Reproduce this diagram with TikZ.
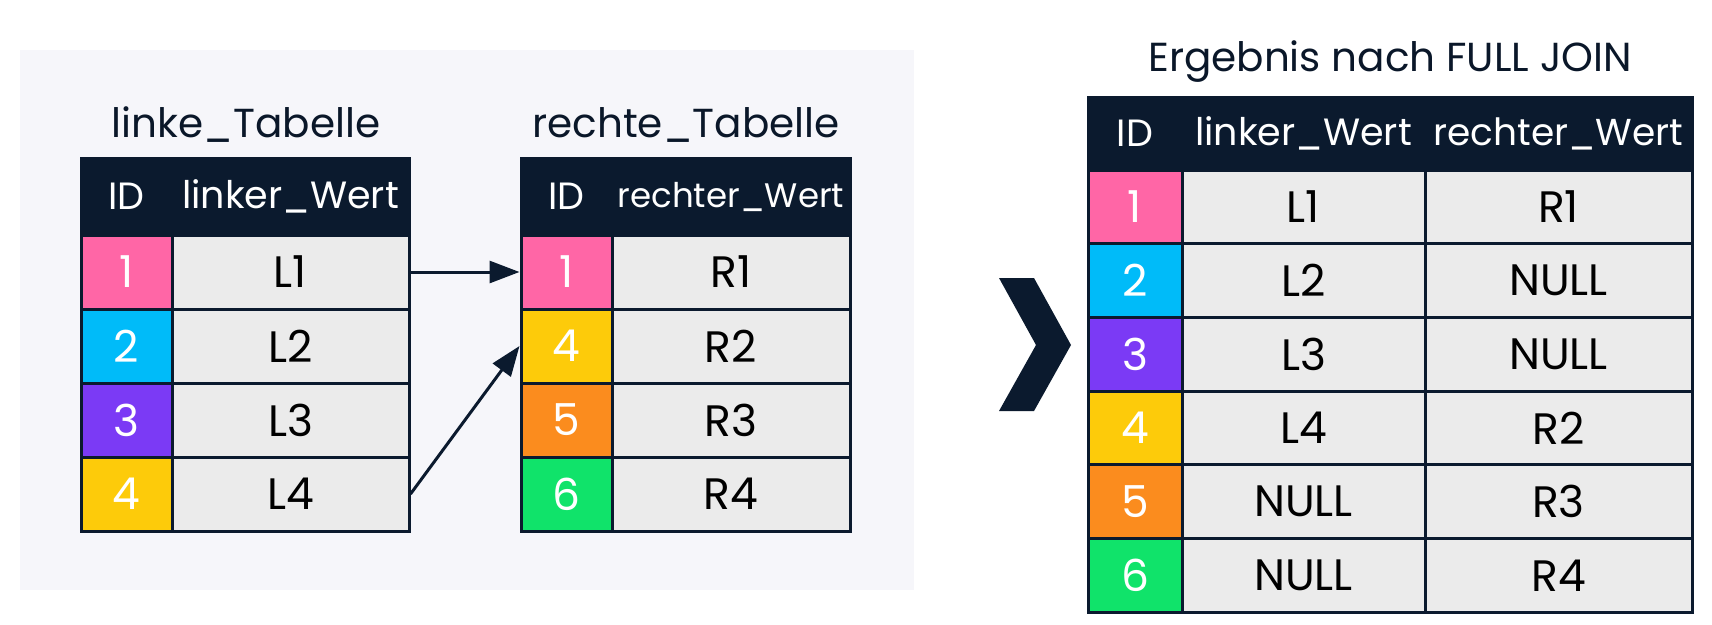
\documentclass[tikz,border=0pt]{standalone}
\usepackage{fontspec}
\setmainfont{Poppins}
\usetikzlibrary{arrows.meta}
\definecolor{navy}{HTML}{0B1A2E}
\definecolor{panel}{HTML}{F6F6FA}
\definecolor{cellgray}{HTML}{EBEBEB}
\definecolor{idpink}{HTML}{FF66A6}
\definecolor{idblue}{HTML}{00BBF9}
\definecolor{idpurple}{HTML}{7B3AF5}
\definecolor{idyellow}{HTML}{FDCB0A}
\definecolor{idorange}{HTML}{FB8C1E}
\definecolor{idgreen}{HTML}{10E36A}
\tikzset{
  cell/.style={draw=navy, line width=3pt, fill=cellgray, inner sep=0pt, text=black,
    font=\fontsize{44}{50}\selectfont},
  idcell/.style={cell, text=white},
  headcell/.style={cell, fill=navy, text=white, font=\fontsize{38}{44}\selectfont},
  tabtitle/.style={anchor=base, text=navy!90!black, font=\fontsize{40.5}{48}\selectfont},
  link/.style={draw=navy, line width=3pt, -{Triangle[length=30pt,width=22pt]}}
}
\begin{document}
\begin{tikzpicture}[x=1pt,y=-1pt]
\useasboundingbox (0,0) rectangle (1712,624);
\fill[white] (0,0) rectangle (1712,624);
\fill[panel] (20,50) rectangle (914,590);

\node[tabtitle] (ltitle) at (246,137) {linke\_Tabelle};
\node[headcell, minimum width=91pt, minimum height=77pt] (lhid) at (126.5,196.5) {ID};
\node[headcell, minimum width=237pt, minimum height=77pt] (lhval) at (290.5,196.5) {linker\_Wert};
\foreach \i/\c/\v [count=\k] in {1/idpink/L1, 2/idblue/L2, 3/idpurple/L3, 4/idyellow/L4} {
  \node[idcell, fill=\c, minimum width=91pt, minimum height=74pt] (lid\k) at (126.5,{198+74*\k}) {\i};
  \node[cell, minimum width=237pt, minimum height=74pt] (lv\k) at (290.5,{198+74*\k}) {\v};
}

\node[tabtitle] (rtitle) at (686,137) {rechte\_Tabelle};
\node[headcell, minimum width=91pt, minimum height=77pt] (rhid) at (566.5,196.5) {ID};
\node[headcell, minimum width=238pt, minimum height=77pt, font=\fontsize{34}{40}\selectfont] (rhval) at (731,196.5) {rechter\_Wert};
\foreach \i/\c/\v [count=\k] in {1/idpink/R1, 4/idyellow/R2, 5/idorange/R3, 6/idgreen/R4} {
  \node[idcell, fill=\c, minimum width=91pt, minimum height=74pt] (rid\k) at (566.5,{198+74*\k}) {\i};
  \node[cell, minimum width=238pt, minimum height=74pt] (rv\k) at (731,{198+74*\k}) {\v};
}

\draw[link] (lv1.east) -- (rid1.west);
\draw[link] (lv4.east) -- (rid2.west);

\fill[navy] (999,278) -- (1034,278) -- (1071,345) -- (1034,411) -- (999,411) -- (1036,345) -- cycle;

\node[tabtitle] (etitle) at (1390,71) {Ergebnis nach FULL JOIN};
\node[headcell, minimum width=94pt, minimum height=73pt] (ehid) at (1135,133.5) {ID};
\node[headcell, minimum width=243pt, minimum height=73pt] (ehl) at (1303.5,133.5) {linker\_Wert};
\node[headcell, minimum width=267pt, minimum height=73pt, font=\fontsize{37.5}{44}\selectfont] (ehr) at (1558.5,133.5) {rechter\_Wert};
\foreach \c/\l/\r [count=\k] in {idpink/L1/R1, idblue/L2/NULL, idpurple/L3/NULL, idyellow/L4/R2, idorange/NULL/R3, idgreen/NULL/R4} {
  \node[idcell, fill=\c, minimum width=94pt, minimum height=73.7pt] (eid\k) at (1135,{133.15+73.7*\k}) {\k};
  \node[cell, minimum width=243pt, minimum height=73.7pt] (el\k) at (1303.5,{133.15+73.7*\k}) {\l};
  \node[cell, minimum width=267pt, minimum height=73.7pt] (er\k) at (1558.5,{133.15+73.7*\k}) {\r};
}
\end{tikzpicture}
\end{document}
